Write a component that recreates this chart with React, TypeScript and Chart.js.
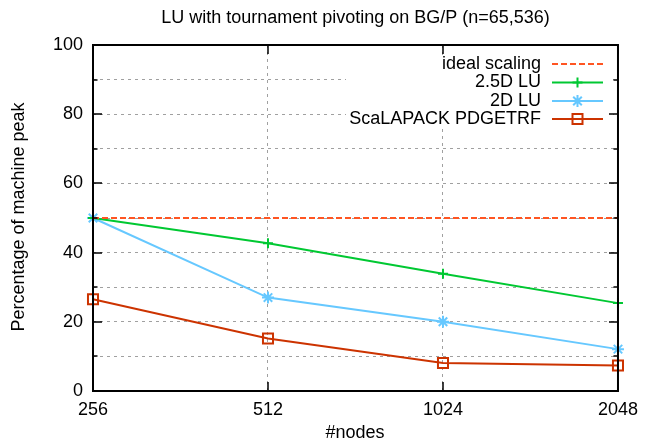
import { useEffect, useRef } from 'react';
import { Chart, registerables } from 'chart.js';

Chart.register(...registerables);

const nodes = [256, 512, 1024, 2048];
const idealScaling = [50, 50, 50, 50];
const lu25D = [50, 42.7, 33.9, 25.4];
const lu2D = [50, 27.0, 20.0, 12.1];
const scalapack = [26.5, 15.2, 8.1, 7.4];
const yTicks = [0, 10, 20, 30, 40, 50, 60, 70, 80, 90, 100];
const seriesLabels = ['ideal scaling', '2.5D LU', '2D LU', 'ScaLAPACK PDGETRF'];
const seriesColors = ['#ff5522', '#00c832', '#66c8ff', '#cc3300'];
const titleText = 'LU with tournament pivoting on BG/P (n=65,536)';
const xTitle = '#nodes';
const yTitle = 'Percentage of machine peak';

const FONT = '18px "Liberation Sans", Arial, sans-serif';

function drawMarker(ctx: CanvasRenderingContext2D, kind: number, x: number, y: number) {
  ctx.beginPath();
  if (kind === 1) {
    ctx.moveTo(x - 5, y); ctx.lineTo(x + 5, y);
    ctx.moveTo(x, y - 5); ctx.lineTo(x, y + 5);
  } else if (kind === 2) {
    ctx.moveTo(x - 6, y); ctx.lineTo(x + 6, y);
    ctx.moveTo(x, y - 6); ctx.lineTo(x, y + 6);
    ctx.moveTo(x - 4.3, y - 4.3); ctx.lineTo(x + 4.3, y + 4.3);
    ctx.moveTo(x - 4.3, y + 4.3); ctx.lineTo(x + 4.3, y - 4.3);
  } else if (kind === 3) {
    ctx.rect(x - 5, y - 5, 10, 10);
  }
  ctx.stroke();
}

const framePlugin = {
  id: 'gnuframe',
  afterDraw(chart: any) {
    const { ctx, chartArea, scales } = chart;
    const { left, right, top, bottom } = chartArea;
    const xs = scales.x;
    const ys = scales.y;
    ctx.save();

    // legend box (opaque)
    ctx.fillStyle = '#ffffff';
    ctx.fillRect(346, 56, 267, 72);
    const rowY = [64, 82.5, 101, 119];
    ctx.font = FONT;
    ctx.textAlign = 'right';
    ctx.textBaseline = 'middle';
    for (let i = 0; i < seriesLabels.length; i++) {
      ctx.fillStyle = '#000';
      ctx.fillText(seriesLabels[i], 541, rowY[i]);
      ctx.strokeStyle = seriesColors[i];
      ctx.lineWidth = 2;
      ctx.setLineDash(i === 0 ? [6, 3] : []);
      ctx.beginPath();
      ctx.moveTo(552, rowY[i]);
      ctx.lineTo(603, rowY[i]);
      ctx.stroke();
      ctx.setLineDash([]);
      drawMarker(ctx, i, 577.5, rowY[i]);
    }

    // border
    ctx.strokeStyle = '#000';
    ctx.lineWidth = 2;
    ctx.setLineDash([]);
    ctx.strokeRect(left, top, right - left, bottom - top);

    // y ticks (inward, mirrored)
    ctx.lineWidth = 1.5;
    for (const v of yTicks) {
      const py = Math.round(ys.getPixelForValue(v));
      const len = v % 20 === 0 ? 9 : 4.5;
      ctx.beginPath();
      ctx.moveTo(left, py); ctx.lineTo(left + len, py);
      ctx.moveTo(right, py); ctx.lineTo(right - len, py);
      ctx.stroke();
    }
    // x ticks
    for (const v of nodes) {
      const px = Math.round(xs.getPixelForValue(v));
      ctx.beginPath();
      ctx.moveTo(px, bottom); ctx.lineTo(px, bottom - 9);
      ctx.moveTo(px, top); ctx.lineTo(px, top + 9);
      ctx.stroke();
    }

    // titles
    ctx.fillStyle = '#000';
    ctx.font = FONT;
    ctx.textAlign = 'center';
    ctx.textBaseline = 'middle';
    ctx.fillText(titleText, (left + right) / 2, 18);
    ctx.fillText(xTitle, 355, 433);
    ctx.translate(19, 217);
    ctx.rotate(-Math.PI / 2);
    ctx.fillText(yTitle, 0, 0);
    ctx.restore();
  },
};

export default function App() {
  const ref = useRef<HTMLCanvasElement>(null);
  useEffect(() => {
    document.body.style.margin = '0';
    const canvas = ref.current;
    if (!canvas) return;
    const mk = (arr: number[]) => nodes.map((n, i) => ({ x: n, y: arr[i] }));
    const chart = new Chart(canvas, {
      type: 'line',
      data: {
        datasets: [
          {
            label: seriesLabels[0], data: mk(idealScaling), borderColor: seriesColors[0],
            borderWidth: 2, borderDash: [6, 3], pointRadius: 0, clip: false as any,
          },
          {
            label: seriesLabels[1], data: mk(lu25D), borderColor: seriesColors[1],
            borderWidth: 2, pointStyle: 'cross', pointRadius: 5, pointBorderWidth: 2,
            pointBorderColor: seriesColors[1], pointBackgroundColor: 'transparent', clip: false as any,
          },
          {
            label: seriesLabels[2], data: mk(lu2D), borderColor: seriesColors[2],
            borderWidth: 2, pointStyle: 'star', pointRadius: 6, pointBorderWidth: 2,
            pointBorderColor: seriesColors[2], pointBackgroundColor: 'transparent', clip: false as any,
          },
          {
            label: seriesLabels[3], data: mk(scalapack), borderColor: seriesColors[3],
            borderWidth: 2, pointStyle: 'rect', pointRadius: 7.1, pointBorderWidth: 2,
            pointBorderColor: seriesColors[3], pointBackgroundColor: 'transparent', clip: false as any,
          },
        ],
      },
      options: {
        responsive: false,
        animation: false,
        layout: { padding: { left: 0, right: 21, top: 45, bottom: 0 } },
        plugins: { legend: { display: false }, title: { display: false }, tooltip: { enabled: false } },
        font: { family: '"Liberation Sans", Arial, sans-serif', size: 18 } as any,
        scales: {
          x: {
            type: 'logarithmic',
            min: 256,
            max: 2048,
            afterBuildTicks: (s: any) => { s.ticks = nodes.map((v) => ({ value: v })); },
            afterFit: (s: any) => { s.height = 51; },
            ticks: {
              callback: (v: any) => String(v),
              color: '#000',
              padding: 8,
              maxRotation: 0,
              autoSkip: false,
              font: { family: '"Liberation Sans", Arial, sans-serif', size: 18 },
            },
            grid: {
              drawTicks: false,
              lineWidth: 1,
              color: (c: any) => (c.tick && (c.tick.value === 256 || c.tick.value === 2048) ? 'transparent' : '#a0a0a0'),
            },
            border: { display: false, dash: [3, 4] },
          },
          y: {
            type: 'linear',
            min: 0,
            max: 100,
            afterBuildTicks: (s: any) => { s.ticks = yTicks.map((v) => ({ value: v })); },
            afterFit: (s: any) => { s.width = 93; },
            ticks: {
              callback: (v: any) => (Number(v) % 20 === 0 ? String(v) : ''),
              color: '#000',
              padding: 10,
              autoSkip: false,
              font: { family: '"Liberation Sans", Arial, sans-serif', size: 18 },
            },
            grid: {
              drawTicks: false,
              lineWidth: 1,
              color: (c: any) => (c.tick && (c.tick.value === 0 || c.tick.value === 100) ? 'transparent' : '#a0a0a0'),
            },
            border: { display: false, dash: [3, 4] },
          },
        },
      },
      plugins: [framePlugin],
    });
    return () => chart.destroy();
  }, []);
  return <canvas ref={ref} width={646} height={442} style={{ display: 'block' }} />;
}
